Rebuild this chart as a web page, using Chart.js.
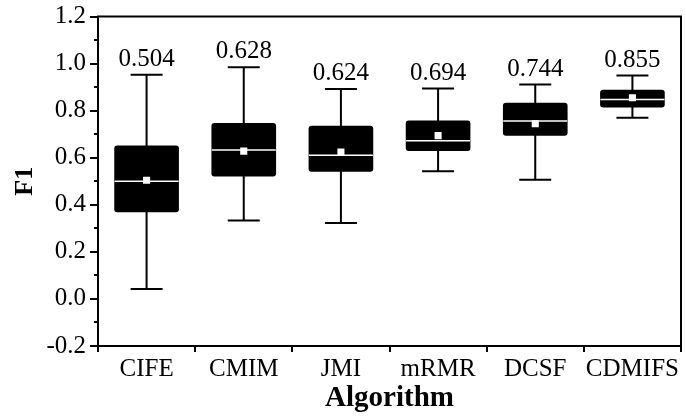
<!DOCTYPE html>
<html>
<head>
<meta charset="utf-8">
<script src="https://cdn.jsdelivr.net/npm/chart.js@4"></script>
<style>
  html, body { margin: 0; padding: 0; background: #fff; }
  #wrap { width: 686px; height: 416px; }
</style>
</head>
<body>
<div id="wrap"><canvas id="c" width="686" height="416"></canvas></div>
<script>
const categories = ['CIFE', 'CMIM', 'JMI', 'mRMR', 'DCSF', 'CDMIFS'];
const whiskerLow  = [0.042, 0.333, 0.323, 0.542, 0.506, 0.770];
const q1          = [0.370, 0.522, 0.542, 0.630, 0.695, 0.815];
const medians     = [0.500, 0.633, 0.610, 0.672, 0.756, 0.847];
const q3          = [0.650, 0.746, 0.734, 0.757, 0.832, 0.887];
const whiskerHigh = [0.953, 0.984, 0.892, 0.894, 0.911, 0.949];
const means       = [0.504, 0.628, 0.624, 0.694, 0.744, 0.855];
const yMin = -0.2, yMax = 1.2, yStep = 0.2, yMinorStep = 0.1;

const FONT = '"Liberation Serif", "Times New Roman", Times, serif';

const boxPlugin = {
  id: 'boxParts',
  beforeDatasetsDraw(chart) {
    const ctx = chart.ctx, xs = chart.scales.x, ys = chart.scales.y;
    ctx.save();
    ctx.strokeStyle = '#000';
    ctx.lineWidth = 2;
    categories.forEach((c, i) => {
      const x = xs.getPixelForValue(i);
      const yh = ys.getPixelForValue(whiskerHigh[i]);
      const yl = ys.getPixelForValue(whiskerLow[i]);
      ctx.beginPath();
      ctx.moveTo(x, yh); ctx.lineTo(x, yl);
      ctx.moveTo(x - 16, yh); ctx.lineTo(x + 16, yh);
      ctx.moveTo(x - 16, yl); ctx.lineTo(x + 16, yl);
      ctx.stroke();
    });
    ctx.restore();
  },
  afterDatasetDraw(chart, args) {
    if (args.index !== 0) return;
    const ctx = chart.ctx, ys = chart.scales.y;
    const meta = chart.getDatasetMeta(0);
    ctx.save();
    ctx.strokeStyle = '#fff';
    ctx.lineWidth = 1.5;
    meta.data.forEach((bar, i) => {
      const y = ys.getPixelForValue(medians[i]);
      ctx.beginPath();
      ctx.moveTo(bar.x - bar.width / 2, y);
      ctx.lineTo(bar.x + bar.width / 2, y);
      ctx.stroke();
    });
    ctx.restore();
  },
  afterDraw(chart) {
    const ctx = chart.ctx, xs = chart.scales.x, ys = chart.scales.y;
    const a = chart.chartArea;
    ctx.save();
    ctx.strokeStyle = '#000';
    ctx.lineWidth = 2;
    ctx.strokeRect(a.left, a.top, a.right - a.left, a.bottom - a.top);
    ctx.beginPath();
    for (let v = yMin + yMinorStep; v < yMax; v += yStep) {
      const y = Math.round(ys.getPixelForValue(v));
      ctx.moveTo(a.left, y); ctx.lineTo(a.left - 4, y);
    }
    ctx.stroke();
    ctx.fillStyle = '#000';
    ctx.font = '25px ' + FONT;
    ctx.textAlign = 'center';
    ctx.textBaseline = 'alphabetic';
    categories.forEach((c, i) => {
      const x = xs.getPixelForValue(i);
      const y = ys.getPixelForValue(whiskerHigh[i]);
      ctx.fillText(means[i].toFixed(3), x, y - 9);
    });
    ctx.restore();
  }
};

new Chart(document.getElementById('c'), {
  type: 'bar',
  data: {
    labels: categories,
    datasets: [
      {
        type: 'bar',
        label: 'IQR',
        data: categories.map((c, i) => [q1[i], q3[i]]),
        backgroundColor: '#000',
        borderWidth: 0,
        borderRadius: 3,
        borderSkipped: false,
        barThickness: 64,
        order: 1
      },
      {
        type: 'line',
        label: 'Mean',
        data: means,
        showLine: false,
        pointStyle: 'rect',
        pointRadius: 5,
        pointHoverRadius: 5,
        pointBackgroundColor: '#fff',
        pointBorderWidth: 0,
        order: 0
      }
    ]
  },
  options: {
    responsive: false,
    animation: false,
    events: [],
    layout: { padding: { left: 0, top: 15, right: 3, bottom: 0 } },
    plugins: { legend: { display: false }, tooltip: { enabled: false } },
    scales: {
      x: {
        offset: true,
        grid: { display: true, drawOnChartArea: false, drawTicks: true, tickLength: 6, color: '#000', lineWidth: 2 },
        border: { display: true, color: '#000', width: 2 },
        ticks: { color: '#000', font: { family: FONT, size: 25 }, padding: 2, maxRotation: 0, autoSkip: false },
        title: { display: true, text: 'Algorithm', color: '#000', font: { family: FONT, size: 29, weight: 'bold' }, padding: { top: -6, bottom: 0 } },
        afterFit(scale) { scale.height = 70; }
      },
      y: {
        min: yMin, max: yMax,
        grid: { display: true, drawOnChartArea: false, drawTicks: true, tickLength: 8, color: '#000', lineWidth: 2 },
        border: { display: true, color: '#000', width: 2 },
        ticks: { stepSize: yStep, color: '#000', font: { family: FONT, size: 25, lineHeight: 1 }, padding: 4,
          callback: (v) => (Math.abs(v) < 1e-9 ? 0 : Number(v)).toFixed(1) },
        title: { display: true, text: 'F1', color: '#000', font: { family: FONT, size: 26, weight: 'bold' }, padding: { top: 10, bottom: 0 } },
        afterFit(scale) { scale.width = 98; }
      }
    }
  },
  plugins: [boxPlugin]
});
</script>
</body>
</html>
